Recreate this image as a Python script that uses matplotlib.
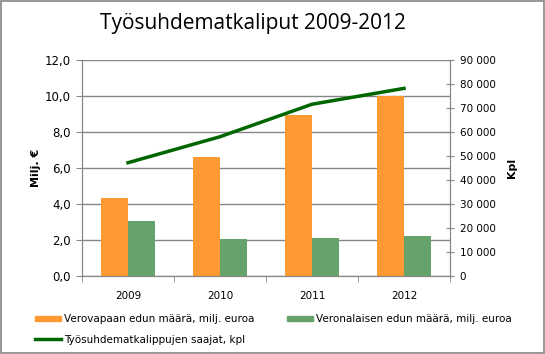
import matplotlib.pyplot as plt
from matplotlib.patches import Patch
from matplotlib.lines import Line2D
import numpy as np

years = ["2009", "2010", "2011", "2012"]
verovapaa = [4.3, 6.6, 8.9, 10.0]       # milj. euroa
veronalainen = [3.05, 2.05, 2.1, 2.23]  # milj. euroa
saajat = [47100, 57900, 71400, 78000]   # kpl

orange = "#FF9933"
green = "#66A36A"
dgreen = "#006600"
gray = "#868686"

fig = plt.figure(figsize=(5.45, 3.54), dpi=100)
fig.patches.append(plt.Rectangle((0.001, 0.002), 0.997, 0.995, transform=fig.transFigure,
                                 fill=False, edgecolor=gray, linewidth=1.2))

ax = fig.add_axes([0.1505, 0.2203, 0.6752, 0.6116])
x = np.arange(len(years))
w = 0.29
ax.bar(x - w / 2, verovapaa, w, color=orange, zorder=3)
ax.bar(x + w / 2, veronalainen, w, color=green, zorder=3)
ax.set_xlim(-0.5, 3.5)
ax.set_ylim(0, 12)
ax.set_yticks(np.arange(0, 12.1, 2))
ax.set_yticklabels([f"{v:.1f}".replace(".", ",") for v in np.arange(0, 12.1, 2)])
ax.yaxis.grid(True, color=gray, linewidth=1)
ax.set_axisbelow(True)
ax.set_xticks(x)
ax.set_xticklabels(years)
ax.set_xticks(np.arange(-0.5, 3.6, 1), minor=True)
ax.tick_params(axis="x", which="major", length=0, pad=11, labelsize=7.5)
ax.tick_params(axis="x", which="minor", length=4, color=gray)
ax.tick_params(axis="y", length=4, color=gray, labelsize=8.5, pad=4)
ax.spines["top"].set_visible(False)
for s in ["left", "bottom", "right"]:
    ax.spines[s].set_color(gray)
ax.set_ylabel("Milj. €", fontweight="bold", fontsize=8, labelpad=3)

ax2 = ax.twinx()
ax2.plot(x, saajat, color=dgreen, linewidth=2.5, zorder=4)
ax2.set_ylim(0, 90000)
ax2.set_yticks(np.arange(0, 90001, 10000))
ax2.set_yticklabels([f"{v:,}".replace(",", " ") for v in range(0, 90001, 10000)])
ax2.tick_params(axis="y", direction="inout", length=6, color=gray, labelsize=7.5, pad=4)
ax2.spines["top"].set_visible(False)
for s in ["left", "bottom", "right"]:
    ax2.spines[s].set_color(gray)
ax2.set_ylabel("Kpl", fontweight="bold", fontsize=8, labelpad=8)

fig.text(0.464, 0.935, "Työsuhdematkaliput 2009-2012", ha="center", va="center",
         fontsize=15, family="Open Sans")

handles = [Patch(color=orange), Line2D([], [], color=dgreen, linewidth=2.5), Patch(color=green)]
labels = ["Verovapaan edun määrä, milj. euroa", "Työsuhdematkalippujen saajat, kpl",
          "Veronalaisen edun määrä, milj. euroa"]
fig.legend(handles, labels, ncol=2, loc="lower left", bbox_to_anchor=(0.047, 0.0),
           frameon=False, fontsize=7.5, handlelength=2.5, handleheight=0.5,
           handletextpad=0.25, columnspacing=3.2, labelspacing=1.0)

fig.savefig("out.png", dpi=100)
